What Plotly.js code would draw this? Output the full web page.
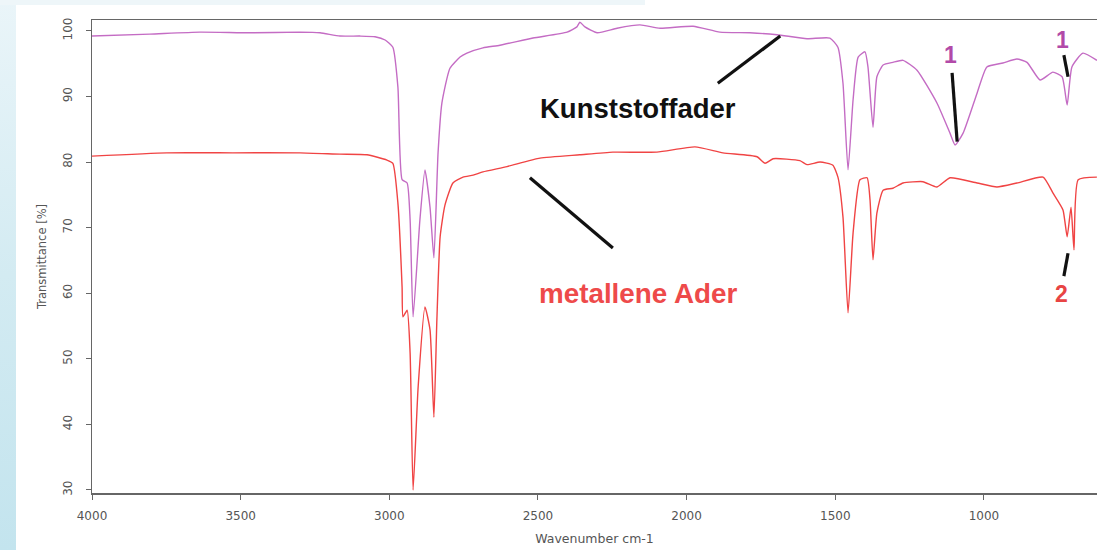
<!DOCTYPE html>
<html>
<head>
<meta charset="utf-8">
<script src="https://cdn.plot.ly/plotly-3.0.1.min.js"></script>
<style>
  html, body { margin: 0; padding: 0; background: #ffffff; width: 1097px; height: 550px; overflow: hidden; }
  #leftband { position: absolute; left: 0; top: 0; width: 16px; height: 550px;
    background: linear-gradient(to bottom, #eaf5f9 0%, #d3ebf2 50%, #c3e4ee 100%); }
  #topband { position: absolute; left: 0; top: 0; width: 645px; height: 5px; background: #eef6f9; }
  #plot { position: absolute; left: 16px; top: 5px; width: 1081px; height: 545px; }
</style>
</head>
<body>
<div id="leftband"></div>
<div id="topband"></div>
<div id="plot"></div>
<script>
// Kunststoffader (purple) spectrum
const wnPurple = [4000,3805,3637,3469,3300,3233,3166,3099,3048,3014,2988,2971,2957,2940,2930,2920,2897,2880,2863,2850,2836,2823,2796,2762,2739,2685,2628,2517,2402,2369,2359,2342,2301,2234,2157,2089,1978,1888,1787,1696,1595,1518,1491,1474,1457,1440,1423,1400,1390,1373,1360,1339,1306,1272,1225,1158,1114,1097,1070,1023,990,936,889,855,811,768,737,720,704,667,620];
const tPurple = [99.2,99.5,99.8,99.7,99.8,99.7,99.2,99.2,99.1,98.6,97.5,91.4,77.3,76.8,71.2,56.4,71.2,78.8,73.1,65.4,81.4,89.0,94.3,96.0,96.6,97.4,97.8,98.9,99.8,100.6,101.3,100.6,99.7,100.4,100.9,100.4,100.7,99.8,99.7,99.4,98.8,98.9,97.5,92.0,78.8,89.5,96.0,96.8,94.5,85.3,93.0,94.8,95.2,95.5,94.0,89.0,84.4,82.6,84.4,90.5,94.5,95.1,95.7,95.2,92.5,93.7,93.0,88.7,94.5,96.6,95.5];

// metallene Ader (red) spectrum
const wnRed = [4000,3748,3526,3300,3166,3075,3008,2988,2971,2957,2954,2940,2930,2920,2903,2880,2863,2850,2840,2829,2813,2786,2752,2718,2685,2604,2493,2359,2248,2100,1972,1878,1763,1736,1709,1619,1595,1551,1508,1491,1474,1457,1440,1417,1393,1383,1373,1360,1339,1306,1272,1205,1158,1114,1023,956,889,801,768,734,720,707,697,683,620];
const tRed = [80.9,81.4,81.4,81.4,81.2,81.1,80.3,79.8,73.7,60.9,56.4,57.4,50.9,30.0,45.7,57.9,54.4,41.1,55.9,68.6,73.4,76.8,77.7,78.0,78.5,79.3,80.6,81.1,81.5,81.5,82.3,81.4,80.8,79.8,80.5,80.2,79.6,80.0,79.5,77.7,71.6,57.0,69.2,77.3,77.6,74.2,65.1,72.2,75.7,76.0,76.8,77.0,76.2,77.6,76.8,76.2,76.8,77.7,75.3,72.7,68.6,73.1,66.6,77.3,77.7];

const xTicks = [4000,3500,3000,2500,2000,1500,1000];
const yTicks = [30,40,50,60,70,80,90,100];

const traces = [
  {x: wnPurple, y: tPurple, type: 'scatter', mode: 'lines', name: 'Kunststoffader',
   line: {color: '#c46cc4', width: 1.4, shape: 'spline', smoothing: 0.5}, hoverinfo: 'skip'},
  {x: wnRed, y: tRed, type: 'scatter', mode: 'lines', name: 'metallene Ader',
   line: {color: '#f04444', width: 1.4, shape: 'spline', smoothing: 0.5}, hoverinfo: 'skip'}
];

const blk = {color: '#111111', width: 3.2};
const lab = 'Liberation Sans, Arial, sans-serif';
const axf = 'DejaVu Sans, sans-serif';
const layout = {
  width: 1081, height: 545,
  margin: {l: 76, r: 0, t: 15, b: 57},
  paper_bgcolor: '#ffffff', plot_bgcolor: '#ffffff',
  showlegend: false,
  font: {family: axf, color: '#555555'},
  xaxis: {
    range: [4000, 619.6], tickvals: xTicks, ticktext: xTicks.map(String),
    showgrid: false, zeroline: false, showline: true, mirror: true,
    linecolor: '#666666', linewidth: 1.5, ticks: 'outside', ticklen: 5, tickcolor: '#666666',
    ticklabelstandoff: 6,
    tickfont: {size: 12, color: '#555555', family: axf},
    title: {text: 'Wavenumber cm-1', font: {size: 12.5, color: '#555555', family: axf}, standoff: 12}
  },
  yaxis: {
    range: [29.54, 101.65], tickvals: yTicks, ticktext: yTicks.map(String),
    showgrid: false, zeroline: false, showline: true,
    linecolor: '#666666', linewidth: 1.5, ticks: 'outside', ticklen: 5, tickcolor: '#666666',
    ticklabelstandoff: 9,
    tickangle: -90, tickfont: {size: 12, color: '#555555', family: axf},
    title: {text: 'Transmittance [%]', font: {size: 11.5, color: '#555555', family: axf}, standoff: 11}
  },
  shapes: [
    {type: 'line', xref: 'x', yref: 'y', x0: 1895, y0: 92.0, x1: 1685, y1: 99.2, line: blk},
    {type: 'line', xref: 'x', yref: 'y', x0: 2527, y0: 77.6, x1: 2248, y1: 66.9, line: blk},
    {type: 'line', xref: 'x', yref: 'y', x0: 1107, y0: 93.6, x1: 1090, y1: 83.1, line: blk},
    {type: 'line', xref: 'x', yref: 'y', x0: 731, y0: 96.3, x1: 717, y1: 93.0, line: blk},
    {type: 'line', xref: 'x', yref: 'y', x0: 717, y0: 66.1, x1: 731, y1: 62.6, line: blk}
  ],
  annotations: [
    {x: 2162, y: 88.2, xref: 'x', yref: 'y', text: '<b>Kunststoffader</b>', showarrow: false,
     font: {size: 27.5, color: '#111111', family: lab}},
    {x: 2165, y: 60.0, xref: 'x', yref: 'y', text: '<b>metallene Ader</b>', showarrow: false,
     font: {size: 27.8, color: '#ee4a4a', family: lab}},
    {x: 1114, y: 96.3, xref: 'x', yref: 'y', text: '<b>1</b>', showarrow: false,
     font: {size: 23, color: '#b24aa8', family: lab}},
    {x: 737, y: 98.6, xref: 'x', yref: 'y', text: '<b>1</b>', showarrow: false,
     font: {size: 23, color: '#b24aa8', family: lab}},
    {x: 740, y: 59.9, xref: 'x', yref: 'y', text: '<b>2</b>', showarrow: false,
     font: {size: 23, color: '#e84444', family: lab}}
  ]
};

Plotly.newPlot('plot', traces, layout, {displayModeBar: false, staticPlot: true});
</script>
</body>
</html>
